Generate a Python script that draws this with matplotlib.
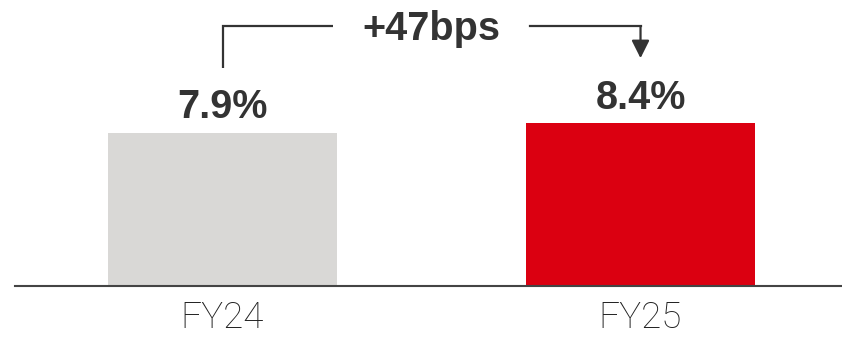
import matplotlib
matplotlib.use("Agg")
import matplotlib.pyplot as plt

years = ["FY24", "FY25"]
margins = [7.9, 8.4]
labels = ["7.9%", "8.4%"]
colors = ["#D9D8D6", "#DB0011"]
change_text = "+47bps"

ink = "#333333"

fig = plt.figure(figsize=(8.42, 3.37), dpi=100)
ax = fig.add_axes([14.5 / 842, 51.5 / 337, 1 - 14.5 / 842, 285.5 / 337])

x = list(range(len(years)))
ax.bar(x, margins, width=0.548, color=colors, zorder=2)

ax.set_xlim(-0.4976, 1.482)
ax.set_ylim(0, 14.77)

for s in ["top", "left", "right"]:
    ax.spines[s].set_visible(False)
ax.spines["bottom"].set_color("#444444")
ax.spines["bottom"].set_linewidth(1.5)
ax.set_yticks([])
ax.set_xticks(x, years)
ax.tick_params(axis="x", length=0, pad=10.5)
for t in ax.get_xticklabels():
    t.set_fontfamily(["Roboto", "DejaVu Sans"])
    t.set_fontweight("light")
    t.set_fontsize(26.5)
    t.set_color("#222222")

# value labels over the bars
for xi, v, lab in zip(x, margins, labels):
    ax.annotate(lab, (xi, v), xytext=(0, 10.5), textcoords="offset points",
                ha="center", va="baseline", fontsize=28.5, fontweight="bold",
                color=ink, family=["Liberation Sans", "DejaVu Sans"])

# bracket showing the change between years
gap = 3.36
top = max(margins) + 5.0
left_x = 0.264
right_x = 0.736
ax.plot([x[0], x[0], left_x], [margins[0] + gap, top, top],
        color=ink, lw=1.6, solid_joinstyle="miter", solid_capstyle="butt")
ax.plot([right_x, x[1]], [top, top], color=ink, lw=1.6,
        solid_capstyle="projecting")
ax.annotate("", xy=(x[1], margins[1] + gap), xytext=(x[1], top),
            arrowprops=dict(arrowstyle="-|>,head_length=1.08,head_width=0.54",
                            color=ink, lw=1.6, mutation_scale=10,
                            shrinkA=0, shrinkB=0))
ax.annotate(change_text, ((x[0] + x[1]) / 2, top), xytext=(0, -10),
            textcoords="offset points", ha="center", va="baseline",
            fontsize=28.5, fontweight="bold", color=ink,
            family=["Liberation Sans", "DejaVu Sans"])

fig.savefig("out.png", dpi=100)
